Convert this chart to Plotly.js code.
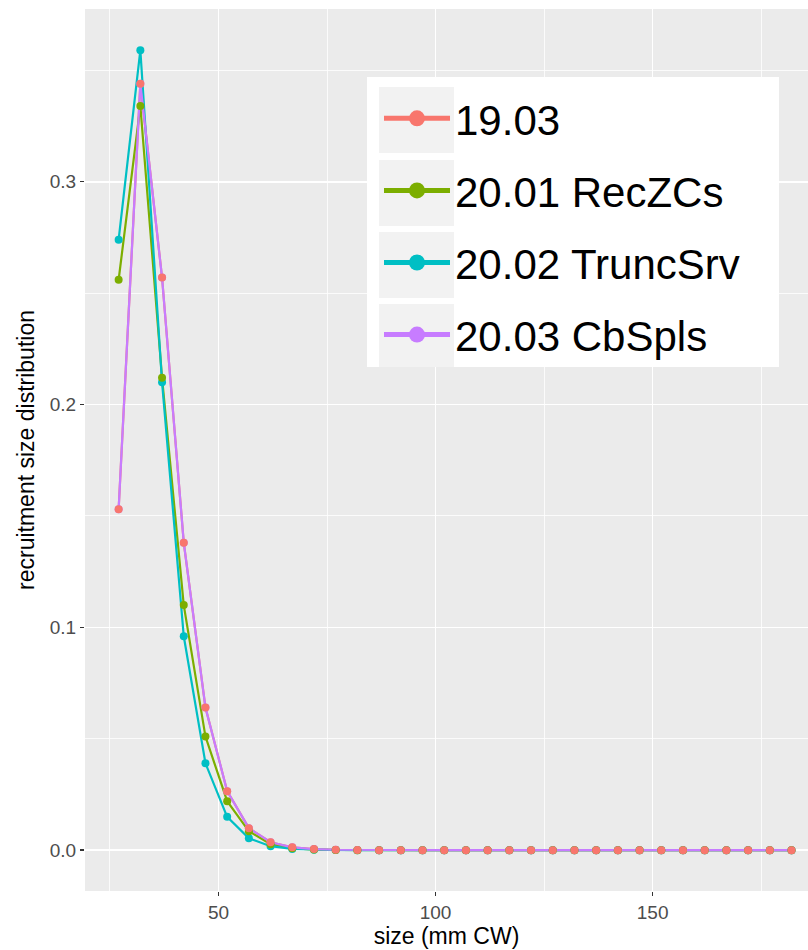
<!DOCTYPE html>
<html>
<head>
<meta charset="utf-8">
<script src="https://cdn.plot.ly/plotly-3.0.1.min.js"></script>
<style>html,body{margin:0;padding:0;background:#fff;}#chart{width:808px;height:950px;}</style>
</head>
<body>
<div id="chart"></div>
<script>
const sizes = [27,32,37,42,47,52,57,62,67,72,77,82,87,92,97,102,107,112,117,122,127,132,137,142,147,152,157,162,167,172,177,182];
const s1903 = [0.153,0.344,0.257,0.138,0.064,0.0265,0.0099,0.0036,0.0013,0.0005,0.0002,0.0001,0,0,0,0,0,0,0,0,0,0,0,0,0,0,0,0,0,0,0,0];
const s2001 = [0.256,0.334,0.212,0.110,0.051,0.022,0.0085,0.0027,0.0009,0.0003,0.0001,0,0,0,0,0,0,0,0,0,0,0,0,0,0,0,0,0,0,0,0,0];
const s2002 = [0.274,0.359,0.210,0.096,0.039,0.015,0.0054,0.0018,0.0006,0.0002,0.0001,0,0,0,0,0,0,0,0,0,0,0,0,0,0,0,0,0,0,0,0,0];
const s2003 = [0.153,0.344,0.257,0.138,0.064,0.0265,0.0099,0.0036,0.0013,0.0005,0.0002,0.0001,0,0,0,0,0,0,0,0,0,0,0,0,0,0,0,0,0,0,0,0];
const names = ["19.03","20.01 RecZCs","20.02 TruncSrv","20.03 CbSpls"];
const colors = ["#F8766D","#7CAE00","#00BFC4","#C77CFF"];
const series = [s1903, s2001, s2002, s2003];

const FONT = 'Liberation Sans, Arial, sans-serif';
const W = 808, H = 950, ML = 85, MR = 0, MT = 9, MB = 59;
const px2x = p => (p - ML) / (W - ML - MR);
const px2y = p => (H - MB - p) / (H - MT - MB);

const traces = [];
// lines first (19.03 at bottom, 20.03 on top), as ggplot geom_line
[0,1,2,3].forEach(i => traces.push({
  type: 'scatter', mode: 'lines', x: sizes, y: series[i], name: names[i],
  line: {color: colors[i], width: 2.2}, showlegend: false, hoverinfo: 'skip'
}));
// points: 19.03 drawn last so it sits on top
[3,2,1,0].forEach(i => traces.push({
  type: 'scatter', mode: 'markers', x: sizes, y: series[i], name: names[i],
  marker: {color: colors[i], size: 8}, showlegend: false, cliponaxis: false
}));
// legend entries
[0,1,2,3].forEach(i => traces.push({
  type: 'scatter', mode: 'lines+markers', x: [null], y: [null], name: names[i],
  legendgroup: 'g' + i, legendrank: i + 1,
  line: {color: colors[i], width: 5}, marker: {color: colors[i], size: 16}
}));

// legend background box and gray key boxes (ggplot style)
const shapes = [{
  type: 'rect', xref: 'paper', yref: 'paper', layer: 'above',
  x0: px2x(367), x1: px2x(779), y0: px2y(367), y1: px2y(77),
  fillcolor: '#ffffff', line: {width: 0}
}];
[[87,153],[160,226],[232,298],[304,367]].forEach(k => shapes.push({
  type: 'rect', xref: 'paper', yref: 'paper', layer: 'above',
  x0: px2x(379), x1: px2x(454), y0: px2y(k[1]), y1: px2y(k[0]),
  fillcolor: '#F2F2F2', line: {width: 0}
}));

const layout = {
  width: W, height: H,
  margin: {l: ML, r: MR, t: MT, b: MB},
  paper_bgcolor: '#ffffff',
  plot_bgcolor: '#EBEBEB',
  showlegend: true,
  shapes: shapes,
  legend: {
    traceorder: 'grouped',
    x: px2x(379), y: px2y(84.5), xanchor: 'left', yanchor: 'top',
    bgcolor: 'rgba(0,0,0,0)', borderwidth: 0,
    font: {family: FONT, size: 42, color: '#000'},
    itemsizing: 'trace', itemwidth: 66, tracegroupgap: 14.5
  },
  xaxis: {
    range: [19.25, 185.8],
    tickvals: [50,100,150], ticktext: ['50','100','150'],
    ticks: 'outside', ticklen: 4, tickwidth: 1.5, tickcolor: '#333333',
    tickfont: {family: FONT, size: 19, color: '#4D4D4D'},
    showgrid: true, gridcolor: '#ffffff', gridwidth: 1.6,
    minor: {tickvals: [25,75,125,175], showgrid: true, gridcolor: '#ffffff', gridwidth: 0.8, ticks: ''},
    zeroline: false, showline: false,
    title: {text: 'size (mm CW)', font: {family: FONT, size: 23, color: '#000'}, standoff: 2}
  },
  yaxis: {
    range: [-0.0183, 0.3775],
    tickvals: [0,0.1,0.2,0.3], ticktext: ['0.0','0.1','0.2','0.3'],
    ticks: 'outside', ticklen: 4, tickwidth: 1.5, tickcolor: '#333333',
    tickfont: {family: FONT, size: 19, color: '#4D4D4D'},
    showgrid: true, gridcolor: '#ffffff', gridwidth: 1.6,
    minor: {tickvals: [0.05,0.15,0.25,0.35], showgrid: true, gridcolor: '#ffffff', gridwidth: 0.8, ticks: ''},
    zeroline: false, showline: false,
    title: {text: 'recruitment size distribution', font: {family: FONT, size: 23, color: '#000'}, standoff: 8}
  }
};

Plotly.newPlot('chart', traces, layout, {displayModeBar: false, staticPlot: true});
</script>
</body>
</html>
